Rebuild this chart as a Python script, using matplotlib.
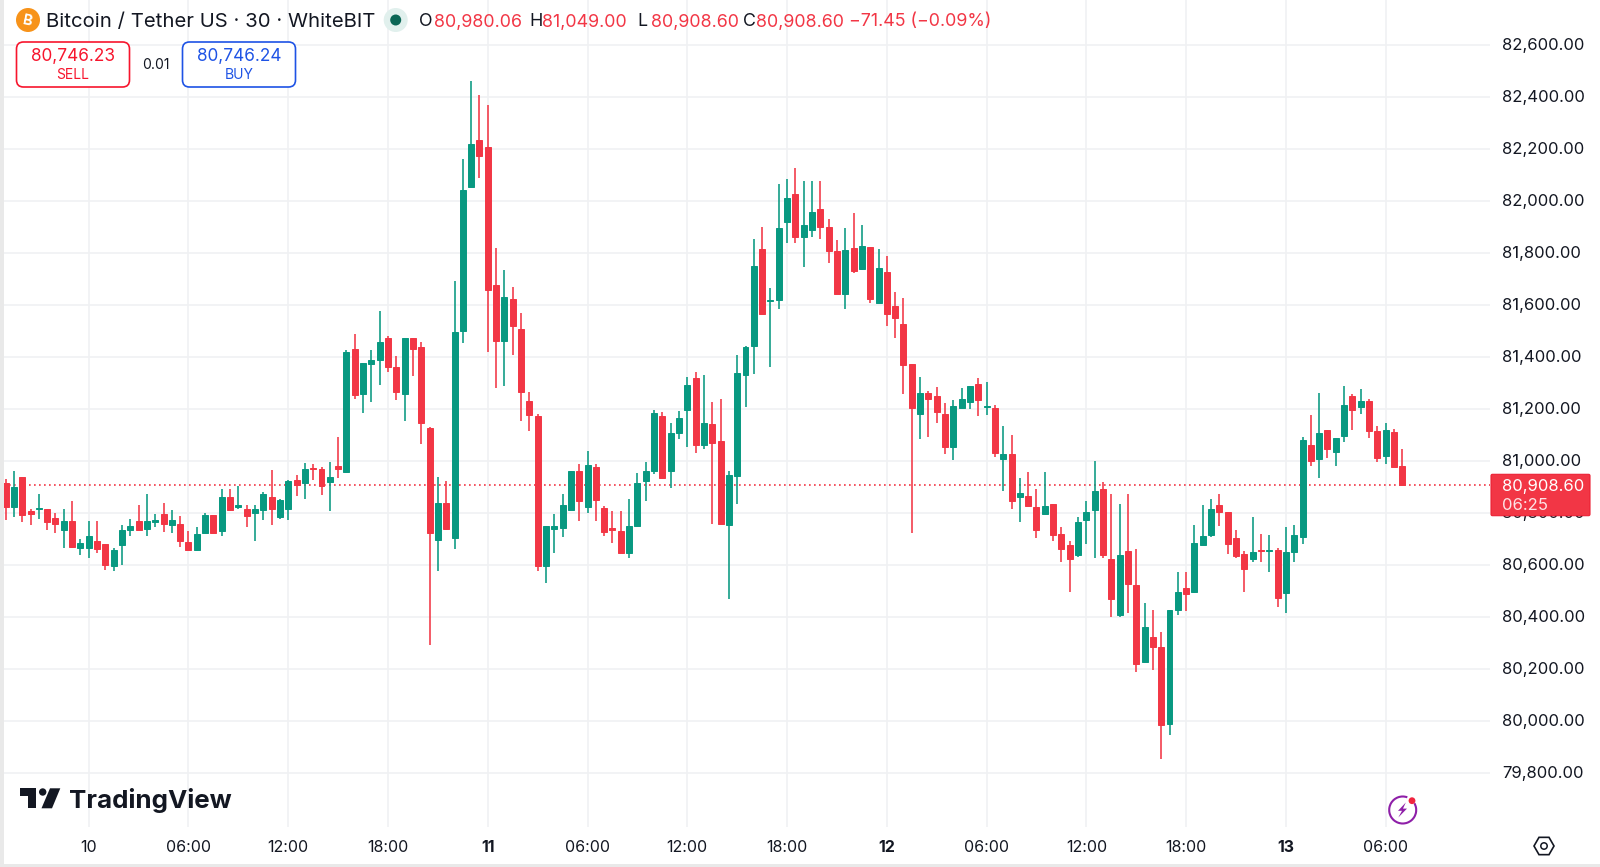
import numpy as np
import matplotlib
matplotlib.use('Agg')
import matplotlib.pyplot as plt
from matplotlib.patches import Circle, FancyBboxPatch, Polygon, Rectangle, Arc
from matplotlib.transforms import ScaledTranslation

# 30 minute BTC/USDT candles
opens = [
    80915, 80823, 80938, 80810, 80818, 80817, 80782, 80737, 80771, 80667,
    80668, 80692, 80682, 80597, 80680, 80737, 80771, 80741, 80768, 80796,
    80755, 80758, 80690, 80659, 80726, 80792, 80732, 80863, 80824, 80815,
    80803, 80814, 80863, 80787, 80817, 80927, 80918, 80974, 80969, 80922,
    80981, 80959, 81433, 81260, 81376, 81391, 81476, 81362, 81260, 81473,
    81441, 81129, 80699, 80838, 80706, 81502, 82056, 82235, 82208, 81677,
    81463, 81623, 81508, 81231, 81174, 80599, 80741, 80745, 80812, 80962,
    80826, 80978, 80822, 80742, 80732, 80649, 80750, 80926, 80964, 81176,
    80962, 81110, 81197, 81319, 81063, 81145, 81077, 80756, 80945, 81333,
    81445, 81815, 81618, 81622, 81919, 82027, 81864, 81888, 81969, 81900,
    81810, 81644, 81821, 81740, 81823, 81610, 81727, 81599, 81529, 81373,
    81181, 81263, 81253, 81183, 81055, 81206, 81228, 81296, 81209, 81206,
    81008, 81028, 80863, 80865, 80823, 80799, 80835, 80719, 80679, 80638,
    80773, 80812, 80894, 80626, 80409, 80654, 80523, 80230, 80323, 80287,
    79991, 80430, 80512, 80496, 80679, 80717, 80831, 80805, 80704, 80642,
    80626, 80658, 80654, 80658, 80495, 80653, 80710, 81062, 81009, 81122,
    81037, 81099, 81251, 81210, 81231, 81115, 81021, 81113, 80980.06,
]
highs = [
    80931, 80963, 80938, 80817, 80874, 80817, 80800, 80817, 80846, 80701,
    80769, 80772, 80682, 80665, 80755, 80778, 80831, 80874, 80796, 80841,
    80813, 80790, 80731, 80746, 80800, 80792, 80894, 80895, 80906, 80833,
    80833, 80881, 80967, 80856, 80928, 80947, 80994, 80988, 80977, 80999,
    81094, 81429, 81490, 81377, 81427, 81578, 81481, 81406, 81473, 81473,
    81460, 81132, 80941, 80923, 81695, 82162, 82463, 82408, 82369, 81822,
    81735, 81672, 81572, 81267, 81183, 80750, 80797, 80874, 80962, 80988,
    81040, 80988, 80829, 80808, 80808, 80854, 80955, 80999, 81197, 81188,
    81149, 81195, 81324, 81342, 81332, 81228, 81238, 80962, 81409, 81445,
    81855, 81900, 81665, 82067, 82086, 82129, 82078, 82078, 82078, 81932,
    81851, 81896, 81956, 81908, 81823, 81817, 81791, 81651, 81627, 81373,
    81324, 81270, 81285, 81223, 81236, 81282, 81288, 81319, 81304, 81217,
    81136, 81101, 80936, 80958, 80895, 80958, 80835, 80747, 80692, 80785,
    80847, 81001, 80919, 80874, 80836, 80874, 80663, 80456, 80428, 80344,
    80430, 80573, 80573, 80754, 80831, 80856, 80874, 80805, 80735, 80656,
    80785, 80722, 80715, 80665, 80746, 80755, 81094, 81178, 81263, 81122,
    81088, 81290, 81258, 81278, 81238, 81136, 81146, 81124, 81049,
]
lows = [
    80774, 80785, 80768, 80754, 80779, 80736, 80726, 80668, 80667, 80640,
    80629, 80649, 80583, 80580, 80601, 80713, 80737, 80713, 80746, 80728,
    80723, 80669, 80660, 80656, 80726, 80726, 80713, 80810, 80817, 80746,
    80692, 80774, 80756, 80779, 80774, 80867, 80856, 80927, 80872, 80810,
    80935, 80956, 81241, 81187, 81229, 81294, 81344, 81237, 81156, 81327,
    81067, 80292, 80580, 80736, 80664, 81456, 82056, 82088, 81422, 81283,
    81288, 81409, 81155, 81118, 80580, 80533, 80649, 80708, 80812, 80769,
    80803, 80771, 80713, 80685, 80649, 80628, 80750, 80849, 80950, 80936,
    80899, 81087, 81056, 81031, 81046, 80760, 80758, 80472, 80835, 81210,
    81337, 81567, 81364, 81585, 81841, 81838, 81747, 81863, 81856, 81763,
    81644, 81585, 81724, 81737, 81610, 81610, 81520, 81476, 81259, 80726,
    81085, 81095, 81146, 81028, 81005, 81206, 81203, 81176, 81177, 81017,
    80886, 80815, 80767, 80827, 80705, 80799, 80692, 80614, 80499, 80633,
    80683, 80629, 80629, 80403, 80403, 80417, 80191, 80227, 80199, 79855,
    79949, 80410, 80423, 80494, 80677, 80708, 80751, 80645, 80629, 80497,
    80614, 80614, 80576, 80440, 80417, 80612, 80682, 80982, 80937, 81013,
    80982, 81076, 81121, 81182, 81090, 80999, 80991, 80977, 80908.6,
]
closes = [
    80823, 80903, 80795, 80796, 80821, 80768, 80760, 80771, 80671, 80686,
    80712, 80663, 80600, 80658, 80737, 80753, 80737, 80769, 80776, 80758,
    80776, 80695, 80660, 80719, 80794, 80726, 80863, 80813, 80832, 80791,
    80815, 80874, 80818, 80851, 80926, 80909, 80972, 80972, 80906, 80938,
    80972, 81420, 81256, 81377, 81390, 81458, 81362, 81268, 81473, 81433,
    81149, 80726, 80838, 80741, 81496, 82043, 82222, 82175, 81660, 81464,
    81633, 81519, 81267, 81178, 80597, 80750, 80750, 80832, 80962, 80849,
    80986, 80853, 80730, 80736, 80649, 80750, 80918, 80964, 81186, 80936,
    81108, 81165, 81292, 81063, 81146, 81071, 80758, 80946, 81341, 81440,
    81751, 81567, 81622, 81896, 82011, 81863, 81908, 81960, 81903, 81810,
    81644, 81813, 81731, 81828, 81626, 81742, 81565, 81553, 81372, 81206,
    81263, 81241, 81188, 81056, 81214, 81240, 81288, 81236, 81214, 81033,
    81027, 80849, 80879, 80827, 80737, 80827, 80718, 80663, 80626, 80768,
    80806, 80886, 80640, 80472, 80638, 80530, 80222, 80362, 80286, 79987,
    80430, 80496, 80491, 80687, 80713, 80817, 80806, 80683, 80637, 80587,
    80650, 80654, 80658, 80474, 80650, 80715, 81083, 81003, 81108, 81047,
    81088, 81217, 81197, 81232, 81117, 81014, 81119, 80977, 80908.6,
]

price_ticks = list(range(79800, 82601, 200))
time_ticks = [10, 22, 34, 46, 58, 70, 82, 94, 106, 118, 130, 142, 154, 166]
time_labels = ['10', '06:00', '12:00', '18:00', '11', '06:00', '12:00', '18:00',
               '12', '06:00', '12:00', '18:00', '13', '06:00']
day_labels = ['11', '12', '13']

last_price = 80908.60

GREEN = '#089981'
RED = '#f23645'
INK = '#131722'
GRID = '#f0f1f3'

plt.rcParams['font.family'] = ['Inter', 'DejaVu Sans']

W, H = 1600, 867
fig = plt.figure(figsize=(W / 100, H / 100), dpi=100, facecolor='white')

# price pane, the scale sits to the right of it
left, right, bottom = 4, 1490, 827
ax = fig.add_axes([left / W, 1 - bottom / H, (right - left) / W, bottom / H])
ax.set_xlim(-0.19, 178.55)
ax.set_ylim(79593.5, 82774.2)
for s in ax.spines.values():
    s.set_visible(False)

ax.set_axisbelow(True)
ax.grid(True, color=GRID, lw=1.2)

ax.yaxis.tick_right()
ax.set_yticks(price_ticks)
ax.set_yticklabels([f'{p:,.2f}' for p in price_ticks])
ax.tick_params(axis='y', length=0, pad=8.5, labelsize=12, labelcolor=INK)
# nudge the scale labels up a pixel so they sit on their gridlines
up_one = ScaledTranslation(0, 1 / 100, fig.dpi_scale_trans)
for lab in ax.get_yticklabels():
    lab.set_transform(lab.get_transform() + up_one)
ax.set_xticks(time_ticks)
ax.set_xticklabels(time_labels)
ax.tick_params(axis='x', length=0, pad=9, labelsize=11.5, labelcolor=INK)
for lab in ax.get_xticklabels():
    if lab.get_text() in day_labels:
        lab.set_fontweight('bold')

ax.axhline(last_price, color=RED, lw=1.2, ls=(0, (1, 2)), zorder=1.5)

# wicks then bodies
idx = np.arange(len(opens))
o = np.array(opens)
h = np.array(highs)
l = np.array(lows)
c = np.array(closes)
colors = [GREEN if up else RED for up in c >= o]
ax.vlines(idx, l, h, colors=colors, lw=1.15, zorder=2)
ax.bar(idx, np.abs(c - o), bottom=np.minimum(o, c), width=0.72, color=colors,
       edgecolor=colors, lw=0.7, zorder=3)

# header, order buttons and logos on a pixel overlay
ov = fig.add_axes([0, 0, 1, 1], zorder=5)
ov.set_xlim(0, W)
ov.set_ylim(H, 0)
ov.axis('off')
ov.patch.set_alpha(0)

ov.add_patch(Rectangle((0, 0), 4, H, color='#e9e9e9', lw=0))
ov.add_patch(Rectangle((0, 864), W, 3, color='#e9e9e9', lw=0))

ov.add_patch(Circle((28, 20), 12, color='#f7931a', lw=0))
ov.text(28, 21, 'B', color='white', fontsize=10.5, fontweight='bold', rotation=-12,
        ha='center', va='center')
ov.text(46, 22, 'Bitcoin / Tether US · 30 · WhiteBIT', color=INK, fontsize=14.65,
        ha='left', va='center')
ov.add_patch(Circle((395.7, 20), 12, color='#e1f0ed', lw=0))
ov.add_patch(Circle((395.7, 20), 5.5, color='#0b6655', lw=0))

for x, s, col in [(419, 'O', INK), (434, '80,980.06', RED), (529, 'H', INK), (542, '81,049.00', RED),
                  (637, 'L', INK), (651, '80,908.60', RED), (743, 'C', INK), (756, '80,908.60', RED),
                  (849, '−71.45 (−0.09%)', RED)]:
    ov.text(x, 22, s, color=col, fontsize=12.85, ha='left', va='center')

# sell / buy boxes
for x0, edge, price, side in [(16.5, '#f7152d', '80,746.23', 'SELL'), (182.5, '#1e53e5', '80,746.24', 'BUY')]:
    ov.add_patch(FancyBboxPatch((x0 + 6, 48), 101, 33, boxstyle='round,pad=6,rounding_size=7',
                                fc='white', ec=edge, lw=1.2, mutation_aspect=1))
    ov.text(x0 + 56.5, 56.5, price, color=edge, fontsize=12.4, ha='center', va='center')
    ov.text(x0 + 56.5, 75, side, color=edge, fontsize=10, ha='center', va='center')
ov.text(156, 65, '0.01', color=INK, fontsize=10, ha='center', va='center')

# price tag covers the 80,800 label
ov.add_patch(FancyBboxPatch((1492, 475.3), 97, 39.4, boxstyle='round,pad=1,rounding_size=1.5',
                            fc=RED, ec='#ec1f33', lw=0.8))
ov.text(1502, 487, '80,908.60', color='white', fontsize=12, ha='left', va='center')
ov.text(1502, 505.5, '06:25', color='#fde3e5', fontsize=12, ha='left', va='center')

# TradingView mark
ov.add_patch(Polygon([(20, 788.3), (36, 788.3), (36, 808.3), (28, 808.3), (28, 796), (20, 796)],
                     fc=INK, lw=0))
ov.add_patch(Circle((42.7, 792), 3.7, fc=INK, lw=0))
ov.add_patch(Polygon([(50, 788.3), (60.3, 788.3), (52, 808.3), (41.5, 808.3)], fc=INK, lw=0))
ov.text(69.5, 800.5, 'TradingView', color=INK, fontsize=18.7, fontweight='bold', ha='left', va='center')

# lightning badge
PURPLE = '#8e1fa8'
ov.add_patch(Arc((1402.7, 810), 27, 27, theta1=-30, theta2=290, color=PURPLE, lw=1.5))
ov.add_patch(Polygon([(1405.8, 802.5), (1398, 810.8), (1402, 810.8), (1398.3, 817.5), (1407, 808.6),
                      (1403, 808.6)], fc=PURPLE, lw=0))
ov.add_patch(Circle((1412, 800.7), 3.4, fc='#f0243f', lw=0))

# settings hexagon
hex_pts = [(1544 + 10 * np.cos(a), 846 + 10 * np.sin(a)) for a in np.deg2rad(np.arange(0, 360, 60))]
ov.add_patch(Polygon(hex_pts, fc='none', ec=INK, lw=1.2))
ov.add_patch(Circle((1544, 846), 3.2, fc='none', ec=INK, lw=1.1))

plt.savefig('out.png', dpi=100, facecolor='white')
